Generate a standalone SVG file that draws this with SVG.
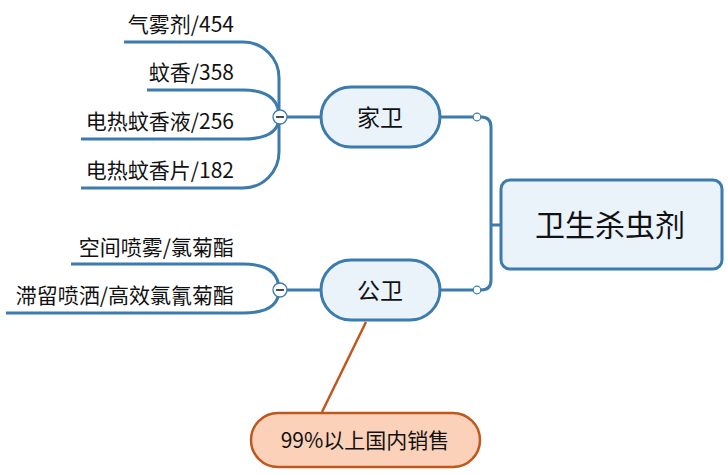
<svg xmlns="http://www.w3.org/2000/svg" width="728" height="475" viewBox="0 0 728 475">
<style>
.ln{fill:none;stroke:#3b7bad;stroke-width:3;stroke-linecap:butt}
.nd{fill:#eaf2fa;stroke:#3b7bad;stroke-width:3}
.t{font-family:"Microsoft YaHei","Noto Sans CJK SC",sans-serif;fill:#111}
.lbl{font-size:21px;text-anchor:end}
.dot{fill:#fff;stroke:#3b7bad;stroke-width:1.2}
</style>
<rect width="728" height="475" fill="#fff"/>
<g id="connectors">
<path class="ln" d="M501,225 H491"/>
<path class="ln" d="M440,117 H481 Q491,117 491,127 V280 Q491,290 481,290 H440"/>
<path class="ln" d="M286,117 H321"/>
<path class="ln" d="M286,290 H321"/>
<path class="ln" d="M279,117 V78 A36,36 0 0 0 243,42 H124"/>
<path class="ln" d="M279,117 Q279,90 243,90 H147"/>
<path class="ln" d="M279,117 Q279,139 243,139 H81"/>
<path class="ln" d="M279,117 V152 A36,36 0 0 1 243,188 H81"/>
<path class="ln" d="M279,290 Q279,264 243,264 H71"/>
<path class="ln" d="M279,290 Q279,313 243,313 H6"/>
<path d="M366,322 L322,412" fill="none" stroke="#c0571d" stroke-width="2.5"/>
<circle class="dot" cx="477" cy="117" r="3.8"/>
<circle class="dot" cx="477" cy="290" r="3.8"/>
<g id="collapse-home">
<circle cx="280" cy="117" r="7" fill="#fff" stroke="#3b7bad" stroke-width="1.3"/>
<path d="M276,117 H284" stroke="#111" stroke-width="1.5"/>
</g>
<g id="collapse-public">
<circle cx="280" cy="290" r="7" fill="#fff" stroke="#3b7bad" stroke-width="1.3"/>
<path d="M276,290 H284" stroke="#111" stroke-width="1.5"/>
</g>
</g>
<g id="root">
<rect class="nd" x="501" y="180" width="221" height="89" rx="9"/>
<text class="t" x="610" y="236" font-size="30" text-anchor="middle">卫生杀虫剂</text>
</g>
<g id="home">
<rect class="nd" x="321" y="87" width="119" height="60" rx="30"/>
<text class="t" x="380" y="126" font-size="23" text-anchor="middle">家卫</text>
</g>
<g id="public">
<rect class="nd" x="321" y="260" width="119" height="60" rx="30"/>
<text class="t" x="380" y="299" font-size="23" text-anchor="middle">公卫</text>
</g>
<g id="home-1"><text class="t lbl" x="234" y="32">气雾剂/454</text></g>
<g id="home-2"><text class="t lbl" x="234" y="80">蚊香/358</text></g>
<g id="home-3"><text class="t lbl" x="234" y="129">电热蚊香液/256</text></g>
<g id="home-4"><text class="t lbl" x="234" y="178">电热蚊香片/182</text></g>
<g id="public-1"><text class="t lbl" x="234" y="255">空间喷雾/氯菊酯</text></g>
<g id="public-2"><text class="t lbl" x="234" y="303">滞留喷洒/高效氯氰菊酯</text></g>
<g id="note">
<rect x="251" y="413" width="229" height="54" rx="27" fill="#fbd1ba" stroke="#c0571d" stroke-width="2.5"/>
<text class="t" x="365" y="448" font-size="21" text-anchor="middle">99%以上国内销售</text>
</g>
</svg>
